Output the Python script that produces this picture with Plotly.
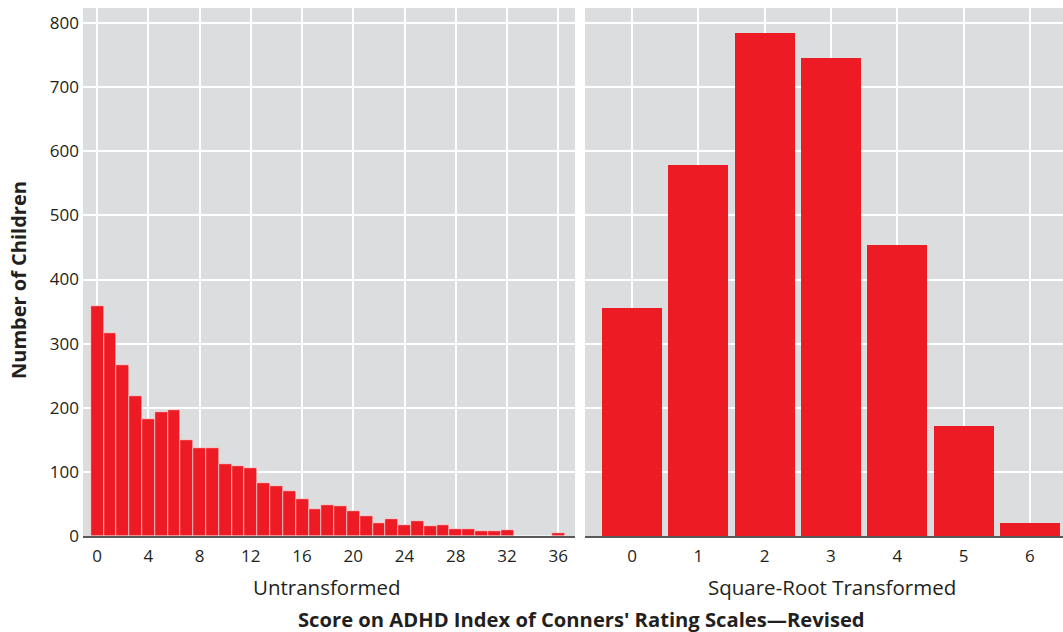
import plotly.graph_objects as go

W, H = 1063, 632

# Data
raw_scores = list(range(0, 37))
raw_counts = [359, 317, 266, 219, 182, 193, 196, 149, 138, 138, 112, 109, 106, 82, 78,
              70, 57, 42, 48, 47, 39, 31, 20, 26, 17, 23, 16, 17, 11, 11, 8, 8, 9,
              0, 0, 0, 4]
sqrt_scores = [0, 1, 2, 3, 4, 5, 6]
sqrt_counts = [356, 579, 785, 746, 454, 171, 21]

y_ticks = [0, 100, 200, 300, 400, 500, 600, 700, 800]
left_ticks = list(range(0, 37, 4))

red = "#ed1c24"
panel = "#dcdddf"
txt = "#231f20"
font_family = "Open Sans, DejaVu Sans, sans-serif"

fig = go.Figure()
fig.add_trace(go.Bar(x=raw_scores, y=raw_counts, marker=dict(color=red, line=dict(color="white", width=0.5)),
                     xaxis="x", yaxis="y", width=1.0, showlegend=False, hoverinfo="skip"))
fig.add_trace(go.Bar(x=sqrt_scores, y=sqrt_counts, marker=dict(color=red, line=dict(width=0)),
                     xaxis="x2", yaxis="y2", width=0.905, showlegend=False, hoverinfo="skip"))

def px_x(p):
    return p / W

def px_y(p):
    return 1 - p / H

ydom = [px_y(536), px_y(8)]
ytop = 800 * (536 - 8) / (536 - 23)

common_x = dict(showgrid=True, gridcolor="white", gridwidth=2, zeroline=False,
                showline=True, linecolor="#595959", linewidth=2,
                ticks="", ticklabelstandoff=4, automargin=False,
                tickfont=dict(size=17, color=txt, family=font_family),
                fixedrange=True)

fig.update_layout(
    width=W, height=H,
    margin=dict(l=0, r=0, t=0, b=0, autoexpand=False),
    paper_bgcolor="white",
    plot_bgcolor=panel,
    bargap=0,
    font=dict(family=font_family, color=txt),
    xaxis=dict(domain=[px_x(83), px_x(575)], range=[-1.1, 37.3],
               tickvals=left_ticks, ticktext=[str(v) for v in left_ticks],
               anchor="y", **common_x),
    xaxis2=dict(domain=[px_x(585), px_x(1063)], range=[-0.71, 6.5],
                tickvals=sqrt_scores, ticktext=[str(v) for v in sqrt_scores],
                anchor="y2", **common_x),
    yaxis=dict(domain=ydom, range=[0, ytop], tickvals=y_ticks,
               showgrid=True, gridcolor="white", gridwidth=2, zeroline=False,
               showline=False, ticks="", ticklabelstandoff=3, automargin=False, anchor="x",
               tickfont=dict(size=17, color=txt, family=font_family), fixedrange=True),
    yaxis2=dict(domain=ydom, range=[0, ytop], tickvals=y_ticks,
                showgrid=True, gridcolor="white", gridwidth=2, zeroline=False,
                showline=False, showticklabels=False, ticks="", automargin=False,
                anchor="x2", fixedrange=True),
)

def anno(text, x, y, size, angle=0):
    return dict(text=text, x=px_x(x), y=px_y(y), xref="paper", yref="paper",
                xanchor="center", yanchor="middle", showarrow=False, textangle=angle,
                font=dict(size=size, color=txt, family=font_family))

fig.update_layout(annotations=[
    anno("Untransformed", 327, 587, 20.5),
    anno("Square-Root Transformed", 832, 587, 20.5),
    anno("<b>Score on ADHD Index of Conners' Rating Scales—Revised</b>", 581, 619, 20.2),
    anno("<b>Number of Children</b>", 19, 280, 20, -90),
])

fig.write_html("out.html", config=dict(displayModeBar=False),
               post_script="document.body.style.margin='0';document.body.style.overflow='hidden';")
